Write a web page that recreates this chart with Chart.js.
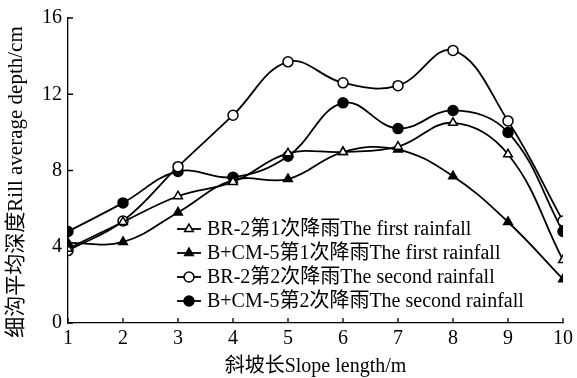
<!DOCTYPE html>
<html>
<head>
<meta charset="utf-8">
<script src="https://cdn.jsdelivr.net/npm/chart.js@4/dist/chart.umd.min.js"></script>
<style>
html,body{margin:0;padding:0;background:#fff;}
#wrap{width:577px;height:378px;position:relative;}
</style>
</head>
<body>
<div id="wrap"><canvas id="c" width="577" height="378"></canvas></div>
<script>
const slopeLength = [1, 2, 3, 4, 5, 6, 7, 8, 9, 10];
const br2First   = [3.9, 5.3, 6.65, 7.4, 8.9, 8.97, 9.25, 10.5, 8.85, 3.3];
const bcm5First  = [4.2, 4.25, 5.8, 7.5, 7.55, 8.97, 9.1, 7.7, 5.3, 2.3];
const br2Second  = [3.8, 5.35, 8.2, 10.9, 13.7, 12.6, 12.45, 14.3, 10.6, 5.35];
const bcm5Second = [4.8, 6.3, 7.95, 7.65, 8.75, 11.55, 10.2, 11.15, 10.0, 4.8];
const seriesNames = [
  "BR-2第1次降雨The first rainfall",
  "B+CM-5第1次降雨The first rainfall",
  "BR-2第2次降雨The second rainfall",
  "B+CM-5第2次降雨The second rainfall"
];
const yTicks = [0, 4, 8, 12, 16];
const xTitle = "斜坡长Slope length/m";
const yTitle = "细沟平均深度Rill average depth/cm";

const FONT = "'Liberation Serif', 'Noto Sans CJK SC', serif";
const styles = [
  {pointStyle: 'triangle', fill: '#fff'},
  {pointStyle: 'triangle', fill: '#000'},
  {pointStyle: 'circle', fill: '#fff'},
  {pointStyle: 'circle', fill: '#000'}
];
const values = [br2First, bcm5First, br2Second, bcm5Second];

const datasets = values.map((v, i) => ({
  label: seriesNames[i],
  data: slopeLength.map((x, j) => ({x: x, y: v[j]})),
  borderColor: '#000',
  borderWidth: 1.8,
  backgroundColor: styles[i].fill,
  pointStyle: styles[i].pointStyle,
  pointRadius: 5,
  pointBorderWidth: 1.5,
  pointBorderColor: '#000',
  pointBackgroundColor: styles[i].fill,
  tension: 0.4,
  fill: false
}));

const decor = {
  id: 'decor',
  afterDraw(chart) {
    const ctx = chart.ctx;
    const xs = chart.scales.x, ys = chart.scales.y;
    ctx.save();
    ctx.strokeStyle = '#000';
    ctx.lineWidth = 1.3;
    // inward ticks
    ctx.beginPath();
    slopeLength.forEach(v => {
      const px = xs.getPixelForValue(v);
      ctx.moveTo(px, ys.bottom);
      ctx.lineTo(px, ys.bottom - 5);
    });
    yTicks.forEach(v => {
      const py = ys.getPixelForValue(v);
      ctx.moveTo(xs.left, py);
      ctx.lineTo(xs.left + 5, py);
    });
    ctx.stroke();
    // y axis title
    ctx.save();
    ctx.translate(16, 182);
    ctx.rotate(-Math.PI / 2);
    ctx.font = "21px " + FONT;
    ctx.fillStyle = '#000';
    ctx.textAlign = 'center';
    ctx.textBaseline = 'middle';
    ctx.fillText(yTitle, 0, 0);
    ctx.restore();
    // legend
    const lx = 177, ly = 229, dy = 24;
    ctx.font = "20px " + FONT;
    ctx.textBaseline = 'middle';
    ctx.textAlign = 'left';
    seriesNames.forEach((name, i) => {
      const y = ly + dy * i;
      ctx.strokeStyle = '#000';
      ctx.lineWidth = 1.8;
      ctx.beginPath();
      ctx.moveTo(lx, y);
      ctx.lineTo(lx + 24, y);
      ctx.stroke();
      ctx.fillStyle = styles[i].fill;
      ctx.lineWidth = 1.5;
      Chart.helpers.drawPoint(ctx, {pointStyle: styles[i].pointStyle, radius: 5, rotation: 0, borderWidth: 1.5}, lx + 12, y);
      ctx.fillStyle = '#000';
      ctx.fillText(name, lx + 30, y + 1);
    });
    // x axis title
    ctx.font = "20px " + FONT;
    ctx.textAlign = 'center';
    ctx.textBaseline = 'middle';
    ctx.fillText(xTitle, (xs.left + xs.right) / 2, 367);
    ctx.restore();
  }
};

new Chart(document.getElementById('c'), {
  type: 'line',
  data: {datasets: datasets},
  options: {
    responsive: false,
    animation: false,
    layout: {padding: {left: 0, top: 18, right: 12, bottom: 0}},
    plugins: {legend: {display: false}, tooltip: {enabled: false}},
    scales: {
      x: {
        type: 'linear', min: 1, max: 10,
        afterFit(s) { s.height = 55; },
        grid: {display: false, drawTicks: false},
        border: {display: true, color: '#000', width: 1.3},
        ticks: {stepSize: 1, padding: 4, color: '#000', font: {family: FONT, size: 20}},
        title: {display: false}
      },
      y: {
        min: 0, max: 16,
        afterFit(s) { s.width = 68; },
        afterBuildTicks(s) { s.ticks = yTicks.map(v => ({value: v})); },
        grid: {display: false, drawTicks: false},
        border: {display: true, color: '#000', width: 1.3},
        ticks: {padding: 6, color: '#000', font: {family: FONT, size: 20}},
        title: {display: false}
      }
    }
  },
  plugins: [decor]
});
</script>
</body>
</html>
